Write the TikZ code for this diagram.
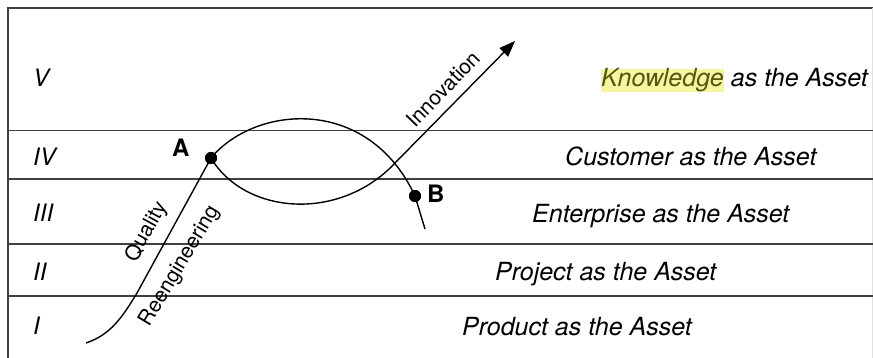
\documentclass[tikz,border=0pt]{standalone}
\usepackage{fontspec}
\setmainfont{TeX Gyre Heros}
\usetikzlibrary{arrows.meta}
\definecolor{hl}{RGB}{246,246,160}
\definecolor{kn}{RGB}{85,85,20}
\begin{document}
\begin{tikzpicture}[x=1pt,y=-1pt,
  band/.style={line width=1.6pt, black!75},
  curve/.style={line width=1.4pt},
  dot/.style={circle, fill, inner sep=0pt, minimum size=12pt},
  roman/.style={anchor=base west, font=\fontsize{24}{28}\selectfont\itshape, inner sep=0pt},
  asset/.style={anchor=base west, font=\fontsize{25}{30}\selectfont\itshape, inner sep=0pt},
  rot/.style={font=\fontsize{21}{25}\selectfont, inner sep=0pt},
  ptlabel/.style={anchor=base west, font=\fontsize{24}{28}\selectfont\bfseries, inner sep=0pt}]
\useasboundingbox (0,0) rectangle (873,358);
% frame and bands
\draw[band] (8,358) -- (8,8) -- (873,8);
\draw[black!12, line width=0.8pt] (872.5,8) -- (872.5,358);
\draw[band] (8,130.5) -- (873,130.5);
\draw[band] (8,179) -- (873,179);
\draw[band] (8,244) -- (873,244);
\draw[band] (8,296) -- (873,296);
% roman numerals
\node[roman] (r5) at (33,87) {V};
\node[roman] (r4) at (33,166) {IV};
\node[roman] (r3) at (33,222) {III};
\node[roman] (r2) at (33,280) {II};
\node[roman] (r1) at (33,334) {I};
% asset labels
\node[asset, fill=hl, text=kn, inner ysep=0pt, outer sep=0pt] (kn) at (601,87) {Knowledge};
\node[asset] (k2) at (kn.base east) {\ as the Asset};
\node[asset] (cu) at (565,166) {Customer as the Asset};
\node[asset] (en) at (532,223) {Enterprise as the Asset};
\node[asset] (pj) at (495,280) {Project as the Asset};
\node[asset] (pd) at (462,335) {Product as the Asset};
% points
\coordinate (S) at (86,343);
\coordinate (E) at (425,229);
\coordinate (T) at (515,41);
\node[dot] (A) at (211,158) {};
\node[dot] (B) at (415,196) {};
\node[ptlabel] (Al) at (172,157) {A};
\node[ptlabel] (Bl) at (427,203) {B};
% curves
\draw[curve] (S) .. controls (110,335) and (122,318) .. (137,293) -- (A.center);
\draw[curve] (A.center) .. controls (255,105) and (368,95) .. (B.center) -- (E);
\draw[curve, -{Triangle[length=16pt,width=12pt]}] (A.center) .. controls (245,215) and (340,222) .. (395,163) -- (T);
\node[dot] at (A) {};
\node[dot] at (B) {};
% rotated labels
\node[rot, rotate=61] (q) at (147,232) {Quality};
\node[rot, rotate=59] (re) at (180,266) {Reengineering};
\node[rot, rotate=46] (in) at (443,89) {Innovation};
\end{tikzpicture}
\end{document}
